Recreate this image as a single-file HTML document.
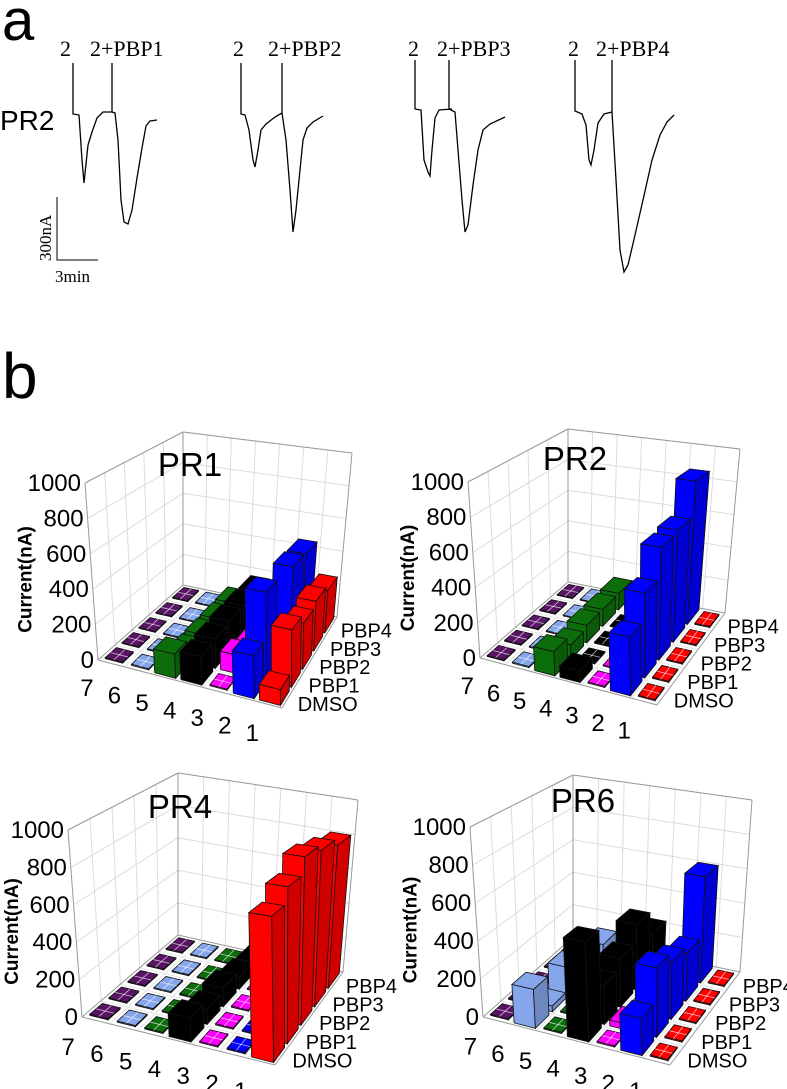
<!DOCTYPE html>
<html><head><meta charset="utf-8"><style>
html,body{margin:0;padding:0;background:#fff;}
svg{display:block;}
.ser{font-family:"Liberation Serif",serif;}
.sans{font-family:"Liberation Sans",sans-serif;}
</style></head><body>
<svg id="fig" width="787" height="1089" viewBox="0 0 787 1089" xmlns="http://www.w3.org/2000/svg">
<g id="panelA">
<text x="2" y="40" font-size="58" class="sans">a</text>
<text x="0" y="130" font-size="28" class="sans">PR2</text>
<g fill="none" stroke="#000" stroke-width="1.3">
<path d="M73,63 L73,114 L79,115 L82,160 L84,183 L88,145 L92,132 L97,118 L103,112 L112,112 L112,63 L112,112 L115,113 L118,140 L121,200 L124,222 L128,224 L132,210 L137,178 L142,148 L146,126 L150,121 L157,120"/>
<path d="M241,63 L241,114 L245,115 L249,130 L253,160 L255,167 L258,150 L261,130 L266,124 L275,117 L282,113 L282,63 L282,113 L286,140 L290,190 L293,232 L296,210 L300,170 L303,140 L307,128 L313,122 L323,116"/>
<path d="M415,60 L415,109 L421,110 L424,160 L428,172 L430,176 L432,150 L435,118 L439,110 L452,109 L449,109 L449,60 L449,109 L455,112 L458,150 L462,200 L465,232 L468,225 L473,185 L478,150 L483,130 L490,124 L505,117"/>
<path d="M575,60 L575,111 L582,114 L586,125 L589,160 L591,165 L594,150 L598,123 L604,114 L612,112 L612,60 L612,112 L616,180 L620,250 L624,272 L628,265 L635,235 L643,200 L652,160 L660,135 L667,122 L674,115"/>
</g>
<g class="ser" font-size="22">
<text x="60" y="56">2</text>
<text x="90" y="56">2+PBP1</text>
<text x="233" y="56">2</text>
<text x="268" y="56">2+PBP2</text>
<text x="408" y="56">2</text>
<text x="437" y="56">2+PBP3</text>
<text x="568" y="56">2</text>
<text x="596" y="56">2+PBP4</text>
</g>
<path d="M57,197 L57,260 L98,260" fill="none" stroke="#000" stroke-width="1"/>
<text transform="translate(51,261) rotate(-90)" font-size="17" class="ser">300nA</text>
<text x="55" y="282" font-size="17" class="ser">3min</text>
</g>
<text x="2" y="398" font-size="64" class="sans">b</text>
<g id="charts"></g>
</svg>
<script>
const categories = ['7','6','5','4','3','2','1'];
const seriesNames = ['DMSO','PBP1','PBP2','PBP3','PBP4'];
const yTicks = [0,200,400,600,800,1000];
// values[category 1..7][series DMSO..PBP4]
const pr1Values = [[80,300,250,280,250],[220,470,150,450,440],[0,100,60,0,0],[150,160,170,170,160],[130,60,60,60,60],[0,0,0,0,0],[0,0,0,0,0]];
const pr2Values = [[0,0,0,0,0],[300,450,620,640,850],[0,0,0,0,0],[60,0,0,0,0],[130,80,100,100,100],[0,0,0,0,0],[0,0,0,0,0]];
const pr4Values = [[700,780,870,840,800],[0,0,0,0,0],[0,0,0,0,0],[120,80,100,70,50],[0,0,0,0,0],[0,0,0,0,0],[0,0,0,0,0]];
const pr6Values = [[0,0,0,0,0],[180,350,300,260,600],[0,30,10,0,0],[500,200,260,360,220],[0,0,0,0,0],[200,30,150,120,100],[0,0,0,0,0]];
const catColors = ['#ff0000','#0000ff','#ff00ff','#000000','#0b6e0b','#86a6ec','#5a1466'];

const NS='http://www.w3.org/2000/svg';
const root=document.getElementById('charts');
function mk(tag,attrs,parent){const e=document.createElementNS(NS,tag);for(const k in attrs)e.setAttribute(k,attrs[k]);(parent||root).appendChild(e);return e;}
function shade(hex,f){const n=parseInt(hex.slice(1),16);let r=(n>>16)&255,g=(n>>8)&255,b=n&255;r=Math.round(r*f);g=Math.round(g*f);b=Math.round(b*f);return 'rgb('+r+','+g+','+b+')';}

const panels=[
 {name:'pr1',title:'PR1',tx:190,ty:476,vals:pr1Values,L:[98,660],F:[282,708],K:[183,585],R:[337,617],h:[177,200,153,164],dx:[-13,-3,0,15]},
 {name:'pr2',title:'PR2',tx:575,ty:470,vals:pr2Values,L:[480,658],F:[657,705],K:[568,582],R:[725,613],h:[176,200,153,164],dx:[-12,-3,0,15]},
 {name:'pr4',title:'PR4',tx:180,ty:818,vals:pr4Values,L:[82,1017],F:[275,1065],K:[178,935],R:[343,972],h:[187,210,162,172],dx:[-14,-3,0,15]},
 {name:'pr6',title:'PR6',tx:583,ty:812,vals:pr6Values,L:[483,1017],F:[670,1065],K:[573,937],R:[740,972],h:[190,210,162,172],dx:[-13,-3,0,12]}
];

panels.forEach(p=>{
 const g=mk('g',{});
 
 
 function proj(u,v,z){
  const w=[(1-u)*(1-v),u*(1-v),(1-u)*v,u*v];
  const C=[p.L,p.F,p.K,p.R];
  let x=0,y=0,h=0,d=0;
  for(let i=0;i<4;i++){x+=w[i]*C[i][0];y+=w[i]*C[i][1];h+=w[i]*p.h[i];d+=w[i]*p.dx[i];}
  return [x+d*z/1000,y-h*z/1000];
 }
 function pts(a){return a.map(q=>{const r=proj(q[0],q[1],q[2]);return r[0].toFixed(1)+','+r[1].toFixed(1);}).join(' ');}
 function line(a,b,stroke,sw,name){const A=proj(...a),B=proj(...b);const l=mk('line',{x1:A[0],y1:A[1],x2:B[0],y2:B[1],stroke:stroke,'stroke-width':sw},g);return l;}
 yTicks.forEach(t=>{ if(t>0){ line([0,0,t],[0,1,t],'#dcdcdc',1,'gridline-left-wall'); line([0,1,t],[1,1,t],'#dcdcdc',1,'gridline-back-wall'); } });
 for(let k=1;k<5;k++){ line([0,k/5,0],[0,k/5,1000],'#dcdcdc',1,'gridline-left-wall-vertical'); line([0,k/5,0],[1,k/5,0],'#e4e4e4',1,'gridline-floor'); }
 for(let k=1;k<7;k++){ line([k/7,1,0],[k/7,1,1000],'#dcdcdc',1,'gridline-back-wall-vertical'); line([k/7,0,0],[k/7,1,0],'#e4e4e4',1,'gridline-floor'); }
 [[[0,0,0],[0,0,1000]],[[0,1,0],[0,1,1000]],[[1,1,0],[1,1,1000]],[[0,0,1000],[0,1,1000]],[[0,1,1000],[1,1,1000]],[[0,0,0],[0,1,0]],[[0,1,0],[1,1,0]],[[0,0,0],[1,0,0]],[[1,0,0],[1,1,0]]].forEach(e=>line(e[0],e[1],'#999',1,'axis-frame-edge'));
 yTicks.forEach(t=>{const P=proj(0,0,t);const tx=mk('text',{x:P[0]-4,y:P[1]+8,'font-size':24,'text-anchor':'end','class':'sans'},g);tx.textContent=t;
  
  });
 const mid=proj(0,0,500);
 const yt=mk('text',{transform:'translate('+(Math.max(mid[0]-60,18))+','+(mid[1]+8)+') rotate(-90)','font-size':19,'font-weight':'bold','text-anchor':'middle','class':'sans'},g);
 yt.textContent='Current(nA)';
 
 
 categories.forEach((c,i)=>{const P=proj((i+0.45)/7,-0.3,0);const tx=mk('text',{x:P[0]+2,y:P[1]+10,'font-size':24,'text-anchor':'middle','class':'sans'},g);tx.textContent=c;
  
  });
 seriesNames.forEach((s,j)=>{const P=proj(1.04,(j+0.5)/5,0);const tx=mk('text',{x:P[0]+3,y:P[1]+10,'font-size':20,'class':'sans'},g);tx.textContent=s;
  
  });
 const ti=mk('text',{x:p.tx,y:p.ty,'font-size':33,'text-anchor':'middle','class':'sans'},g);
 ti.textContent=p.title;
 
 
 const items=[];
 categories.forEach((c,i)=>{const ci=parseInt(c)-1;seriesNames.forEach((s,j)=>{items.push({i,j,ci,val:p.vals[ci][j]});});});
 items.sort((a,b)=>((b.j/5)-(b.i/7))-((a.j/5)-(a.i/7)));
 items.forEach(it=>{
  const uc=(it.i+0.5)/7, vc=(it.j+0.5)/5;
  const zero=it.val<15;
  const hw=(zero?0.33:0.4)/7, hv=(zero?0.33:0.4)/5;
  const u0=uc-hw,u1=uc+hw,v0=vc-hv,v1=vc+hv;
  const col=catColors[it.ci];
  const z=Math.max(it.val,6);
  const bg=mk('g',{},g);
  
  
  const stroke='#111';
  mk('polygon',{points:pts([[u0,v0,0],[u1,v0,0],[u1,v0,z],[u0,v0,z]]),fill:col,stroke:stroke,'stroke-width':0.8},bg);
  mk('polygon',{points:pts([[u1,v0,0],[u1,v1,0],[u1,v1,z],[u1,v0,z]]),fill:shade(col,0.82),stroke:stroke,'stroke-width':0.8},bg);
  mk('polygon',{points:pts([[u0,v0,z],[u1,v0,z],[u1,v1,z],[u0,v1,z]]),fill:col,stroke:stroke,'stroke-width':0.8},bg);
  if(zero){
   const A=proj(uc,v0,z),B=proj(uc,v1,z),C=proj(u0,vc,z),D=proj(u1,vc,z);
   mk('line',{x1:A[0],y1:A[1],x2:B[0],y2:B[1],stroke:'#fff','stroke-width':0.8,'stroke-opacity':0.7},bg);
   mk('line',{x1:C[0],y1:C[1],x2:D[0],y2:D[1],stroke:'#fff','stroke-width':0.8,'stroke-opacity':0.7},bg);
  }
 });
});
</script>
</body></html>
